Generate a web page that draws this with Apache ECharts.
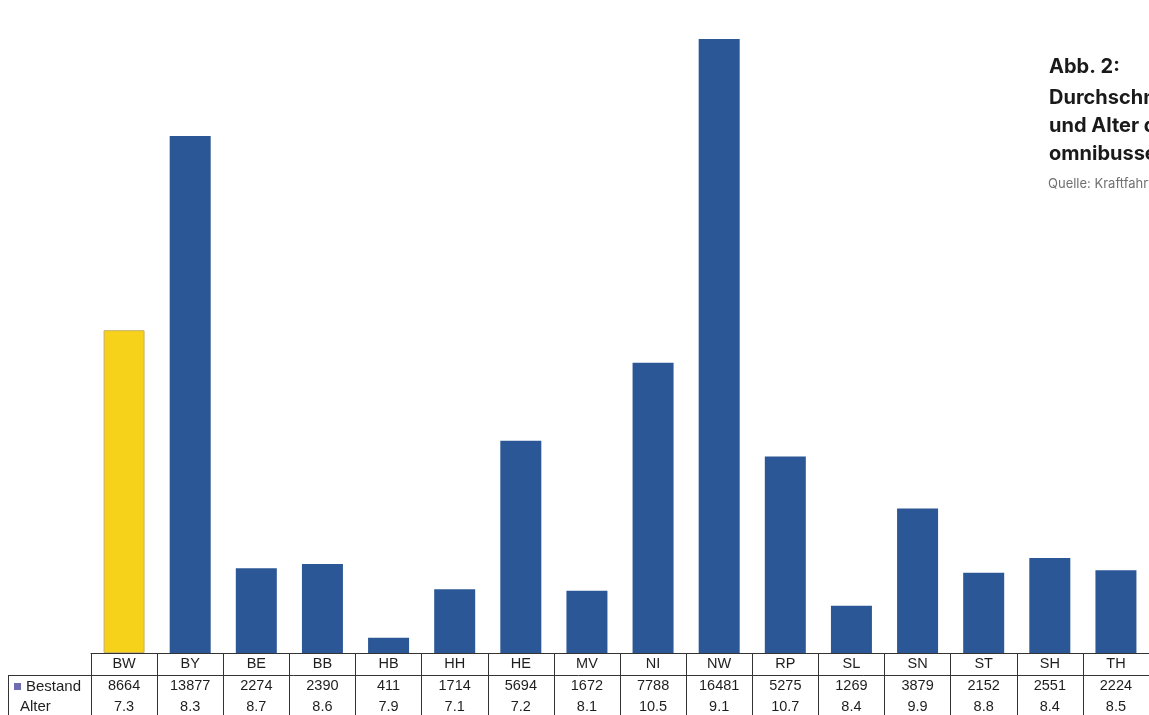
<!DOCTYPE html>
<html>
<head>
<meta charset="utf-8">
<script src="https://cdn.jsdelivr.net/npm/echarts@6/dist/echarts.min.js"></script>
<style>
html,body{margin:0;padding:0;background:#fff;}
#c{width:1149px;height:715px;}
</style>
</head>
<body>
<div id="c"></div>
<script>
const categories = ['BW','BY','BE','BB','HB','HH','HE','MV','NI','NW','RP','SL','SN','ST','SH','TH'];
const bestand = [8664,13877,2274,2390,411,1714,5694,1672,7788,16481,5275,1269,3879,2152,2551,2224];
const alter = ['7.3','8.3','8.7','8.6','7.9','7.1','7.2','8.1','10.5','9.1','10.7','8.4','9.9','8.8','8.4','8.5'];
const highlight = 'BW';
const titleLines = ['Abb. 2:', 'Durchschnittlicher Bestand', 'und Alter der Kraft-', 'omnibusse 2016'];
const sourceText = 'Quelle: Kraftfahrt-Bundesamt';

const chart = echarts.init(document.getElementById('c'));
const FONT = '"Liberation Sans", Arial, sans-serif';
const TFONT = 'bold 20px Inter, "Open Sans", sans-serif';
const option = {
  animation: false,
  backgroundColor: '#ffffff',
  grid: { left: 91, top: 1, width: 1066, bottom: 62, containLabel: false },
  xAxis: {
    type: 'category',
    data: categories,
    axisLine: { show: true, lineStyle: { color: '#333', width: 1 } },
    axisTick: { show: true, length: 64, lineStyle: { color: '#333', width: 1 } },
    axisLabel: {
      margin: 0,
      interval: 0,
      formatter: function (v, i) {
        return '{c|' + v + '}\n{b|' + bestand[i] + '}\n{a|' + alter[i] + '}';
      },
      rich: {
        c: { fontFamily: FONT, fontSize: 14.5, color: '#1e1e1e', lineHeight: 21 },
        b: { fontFamily: FONT, fontSize: 14.5, color: '#1e1e1e', lineHeight: 24 },
        a: { fontFamily: FONT, fontSize: 14.5, color: '#1e1e1e', lineHeight: 17 }
      }
    }
  },
  yAxis: {
    type: 'value', min: 0, max: 17500, show: false,
    splitLine: { show: false }
  },
  series: [{
    type: 'bar',
    name: 'Bestand',
    barWidth: 41,
    data: bestand.map((v, i) => ({
      value: v,
      itemStyle: categories[i] === highlight
        ? { color: '#f7d21a', borderColor: '#c9b060', borderWidth: 1 }
        : { color: '#2c5796' }
    }))
  }],
  graphic: [
    { type: 'line', shape: { x1: 8, y1: 675.5, x2: 1149, y2: 675.5 }, style: { stroke: '#333', lineWidth: 1 } },
    { type: 'line', shape: { x1: 8.5, y1: 675.5, x2: 8.5, y2: 715 }, style: { stroke: '#333', lineWidth: 1 } },
    { type: 'rect', shape: { x: 14, y: 683, width: 7, height: 7 }, style: { fill: '#6d6db0' } },
    { type: 'text', x: 26, y: 686.5, style: { text: 'Bestand', font: '15px ' + FONT, fill: '#1e1e1e', verticalAlign: 'middle' } },
    { type: 'text', x: 20, y: 706.5, style: { text: 'Alter', font: '15px ' + FONT, fill: '#1e1e1e', verticalAlign: 'middle' } },
    { type: 'text', x: 1049, y: 67, style: { text: titleLines[0], font: TFONT, fill: '#1a1a1a', verticalAlign: 'middle' } },
    { type: 'text', x: 1049, y: 98, style: { text: titleLines[1], font: TFONT, fill: '#1a1a1a', verticalAlign: 'middle' } },
    { type: 'text', x: 1049, y: 126, style: { text: titleLines[2], font: TFONT, fill: '#1a1a1a', verticalAlign: 'middle' } },
    { type: 'text', x: 1049, y: 154, style: { text: titleLines[3], font: TFONT, fill: '#1a1a1a', verticalAlign: 'middle' } },
    { type: 'text', x: 1048, y: 184, style: { text: sourceText, font: '13px Inter, "Open Sans", sans-serif', fill: '#707070', verticalAlign: 'middle' } }
  ]
};
chart.setOption(option);
</script>
</body>
</html>
